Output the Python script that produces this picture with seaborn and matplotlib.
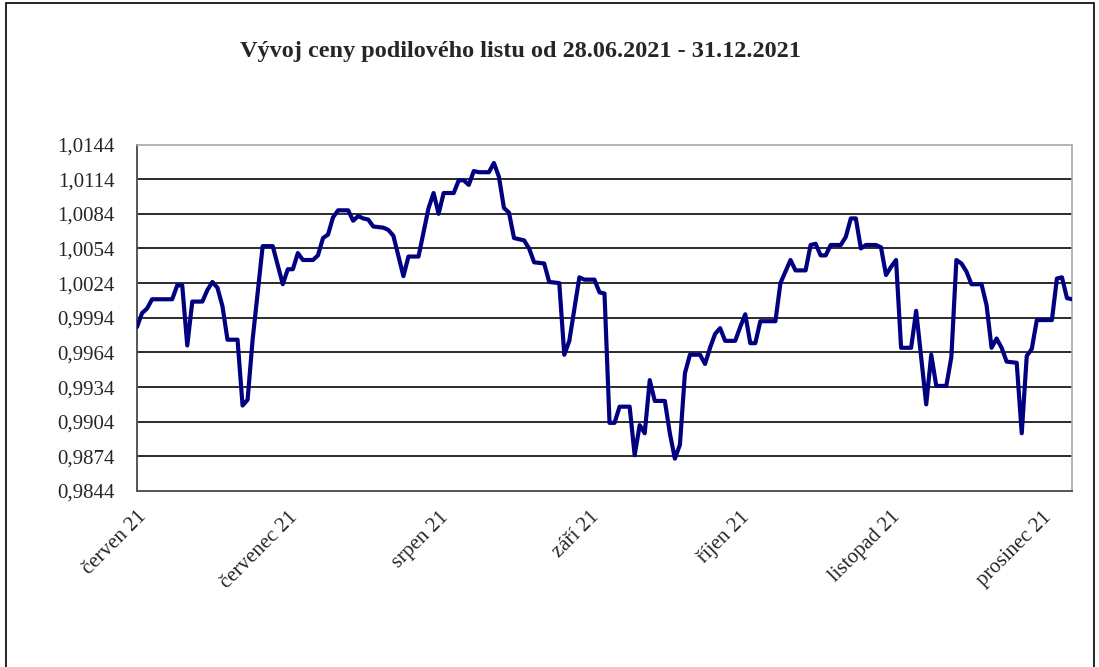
import pandas as pd
import numpy as np
import matplotlib
matplotlib.use("Agg")
import matplotlib.pyplot as plt
from matplotlib.patches import Rectangle
import seaborn as sns

# price of the fund unit (day offset from 28.06.2021)
start_date = "2021-06-28"
end_date = "2021-12-31"
days = [0, 1, 2, 3, 7, 8, 9, 10, 11, 13, 14, 15, 16, 17, 18, 20, 21, 22, 23, 25,
        27, 29, 30, 31, 32, 33, 35, 36, 37, 38, 39, 40, 42, 43, 44, 45, 46, 47, 49, 50,
        51, 53, 54, 56, 58, 59, 60, 61, 63, 64, 65, 66, 67, 68, 70, 71, 72, 73, 74, 75,
        77, 78, 79, 81, 82, 84, 85, 86, 88, 89, 91, 92, 93, 94, 95, 96, 98, 99, 100, 101,
        102, 103, 105, 106, 107, 108, 109, 110, 112, 113, 114, 115, 116, 117, 119, 120, 121, 122, 123, 124,
        127, 128, 130, 131, 133, 134, 135, 136, 137, 138, 140, 141, 142, 143, 144, 145, 147, 148, 149, 150,
        151, 152, 154, 155, 157, 158, 159, 161, 162, 163, 164, 165, 166, 168, 169, 170, 171, 172, 173, 175,
        176, 177, 178, 179, 182, 183, 184, 185, 186]
price = [0.9986, 0.9998, 1.0002, 1.0010, 1.0010, 1.0022, 1.0022, 0.9970, 1.0008, 1.0008,
         1.0018, 1.0025, 1.0020, 1.0004, 0.9975, 0.9975, 0.9918, 0.9923, 0.9975, 1.0056,
         1.0056, 1.0023, 1.0036, 1.0036, 1.0050, 1.0044, 1.0044, 1.0048, 1.0063, 1.0066,
         1.0081, 1.0087, 1.0087, 1.0078, 1.0082, 1.0080, 1.0079, 1.0073, 1.0072, 1.0070,
         1.0065, 1.0030, 1.0047, 1.0047, 1.0089, 1.0102, 1.0084, 1.0102, 1.0102, 1.0113,
         1.0113, 1.0109, 1.0121, 1.0120, 1.0120, 1.0128, 1.0116, 1.0089, 1.0085, 1.0063,
         1.0061, 1.0054, 1.0042, 1.0041, 1.0025, 1.0024, 0.9962, 0.9974, 1.0029, 1.0027,
         1.0027, 1.0016, 1.0015, 0.9903, 0.9903, 0.9917, 0.9917, 0.9875, 0.9901, 0.9894,
         0.9940, 0.9922, 0.9922, 0.9894, 0.9872, 0.9884, 0.9946, 0.9962, 0.9962, 0.9954,
         0.9968, 0.9980, 0.9985, 0.9974, 0.9974, 0.9986, 0.9997, 0.9972, 0.9972, 0.9991,
         0.9991, 1.0024, 1.0044, 1.0035, 1.0035, 1.0057, 1.0058, 1.0048, 1.0048, 1.0057,
         1.0057, 1.0064, 1.0080, 1.0080, 1.0054, 1.0057, 1.0057, 1.0055, 1.0031, 1.0038,
         1.0044, 0.9968, 0.9968, 1.0000, 0.9919, 0.9962, 0.9935, 0.9935, 0.9960, 1.0044,
         1.0041, 1.0034, 1.0023, 1.0023, 1.0005, 0.9968, 0.9976, 0.9968, 0.9956, 0.9955,
         0.9894, 0.9961, 0.9967, 0.9992, 0.9992, 1.0028, 1.0029, 1.0011, 1.0010]

month_labels = ["červen 21", "červenec 21", "srpen 21", "září 21",
                "říjen 21", "listopad 21", "prosinec 21"]
title = "Vývoj ceny podilového listu od 28.06.2021 - 31.12.2021"

y_ticks = np.round(np.arange(0.9844, 1.0145, 0.003), 4)

df = pd.DataFrame({
    "date": pd.to_datetime(start_date) + pd.to_timedelta(days, unit="D"),
    "price": price,
})

sns.set_style("white")
plt.rcParams["font.family"] = ["Liberation Serif", "DejaVu Serif"]

fig = plt.figure(figsize=(10.99, 6.67), dpi=100)
ax = fig.add_axes([137 / 1099, 1 - 491 / 667, 935 / 1099, 346.5 / 667])

# horizontal gridlines (inside the plot only)
ax.hlines(y_ticks[1:-1], pd.to_datetime(start_date), pd.to_datetime(end_date),
          colors="#1a1a1a", linewidth=1.3, zorder=1)

sns.lineplot(data=df, x="date", y="price", color="#000080", linewidth=3.0, ax=ax, zorder=3)

ax.set_xlim(pd.to_datetime(start_date), pd.to_datetime(end_date))
ax.set_ylim(y_ticks[0], y_ticks[-1])
ax.set_yticks(y_ticks)
ax.set_yticklabels([f"{v:.4f}".replace(".", ",") for v in y_ticks], fontsize=15)

x_ticks = pd.to_datetime(start_date) + pd.to_timedelta(np.arange(0, 181, 30), unit="D")
ax.set_xticks(x_ticks)
ax.set_xticklabels(month_labels, fontsize=15, rotation=45, ha="right",
                   rotation_mode="anchor")
ax.tick_params(axis="y", length=0, pad=16)
ax.tick_params(axis="x", length=0, pad=12)
ax.set_xlabel("")
ax.set_ylabel("")

for side in ["left", "bottom"]:
    ax.spines[side].set_color("#555555")
    ax.spines[side].set_linewidth(1.4)
for side in ["top", "right"]:
    ax.spines[side].set_color("#a8a8a8")
    ax.spines[side].set_linewidth(1.2)

fig.text(520 / 1099, 1 - 52 / 667, title, ha="center", va="center",
         fontsize=17.5, fontweight="bold")

# outer chart frame
fig.patches.append(Rectangle((6 / 1099, -0.01), 1088 / 1099, 1.005,
                             transform=fig.transFigure, fill=False,
                             edgecolor="black", linewidth=1.2))

fig.savefig("out.png", dpi=100)
